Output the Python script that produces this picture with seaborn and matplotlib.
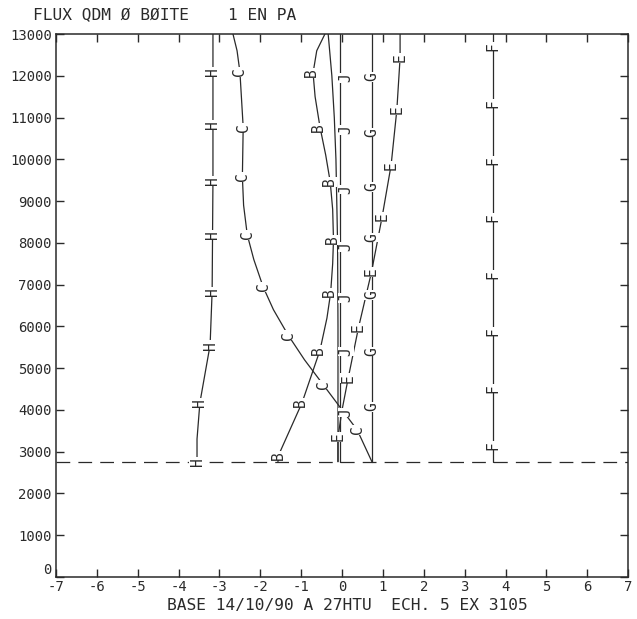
import numpy as np
import matplotlib
matplotlib.use("Agg")
import matplotlib.pyplot as plt
import seaborn as sns

# altitude (m) and flux values
h_y = [2760, 3300, 4170, 5000, 5550, 6840, 8190, 9500, 10820, 12090, 13000]
h_x = [-3.55, -3.55, -3.48, -3.33, -3.23, -3.18, -3.17, -3.16, -3.16, -3.16, -3.16]
h_lab = [2760, 4170, 5550, 6840, 8190, 9500, 10820, 12090]

c_y = [2760, 3520, 4000, 4600, 5200, 5790, 6400, 6940, 7600, 8190, 8900, 9580, 10770, 12090, 12600, 13000]
c_x = [0.73, 0.37, 0.0, -0.46, -0.92, -1.32, -1.68, -1.93, -2.16, -2.32, -2.41, -2.44, -2.42, -2.50, -2.57, -2.67]
c_lab = [3520, 4600, 5790, 6940, 8190, 9580, 10770, 12090]

b_y = [2760, 2990, 4170, 5430, 6200, 6800, 7500, 8070, 8800, 9460, 10100, 10770, 11500, 12070, 12600, 13000]
b_x = [-1.57, -1.52, -0.98, -0.54, -0.37, -0.28, -0.23, -0.21, -0.23, -0.29, -0.40, -0.54, -0.66, -0.71, -0.62, -0.42]
b_lab = [2900, 4170, 5430, 6800, 8070, 9460, 10770, 12070]

a_y = [2760, 6000, 8000, 9000, 10000, 11000, 12000, 13000]
a_x = [-0.10, -0.10, -0.11, -0.13, -0.15, -0.19, -0.25, -0.34]

j_y = [2760, 13000]
j_x = [-0.05, -0.05]
j_lab = [3930, 5390, 6680, 7900, 9270, 10700, 11950]

g_y = [2760, 13000]
g_x = [0.73, 0.73]
g_lab = [4070, 5390, 6750, 8120, 9340, 10650, 11970]

e_y = [2760, 3350, 4000, 4760, 5960, 7300, 8620, 9860, 11180, 12430, 13000]
e_x = [-0.10, -0.10, 0.0, 0.15, 0.40, 0.72, 0.98, 1.20, 1.34, 1.42, 1.42]
e_lab = [3350, 4760, 5960, 7300, 8620, 9860, 11180, 12430]

f_y = [2760, 13000]
f_x = [3.70, 3.70]
f_lab = [3150, 4510, 5880, 7240, 8610, 9970, 11340, 12700]

base_y = 2760
x_ticks = list(range(-7, 8))
y_ticks = list(range(0, 13001, 1000))

curves = [
    ("H", h_x, h_y, h_lab),
    ("C", c_x, c_y, c_lab),
    ("B", b_x, b_y, b_lab),
    ("", a_x, a_y, []),
    ("J", j_x, j_y, j_lab),
    ("G", g_x, g_y, g_lab),
    ("E", e_x, e_y, e_lab),
    ("F", f_x, f_y, f_lab),
]
# small sideways shift of the letters (J sits on the right of its line)
lab_shift = {"J": 0.14, "B": -0.03}

sns.set_style("ticks")
plt.rcParams['font.family'] = ['DejaVu Sans Mono', 'DejaVu Sans']
plt.rcParams['axes.unicode_minus'] = False

ink = "#2a2a2a"
fig = plt.figure(figsize=(6.37, 6.19), dpi=100)
ax = fig.add_axes([0.088, 0.068, 0.898, 0.877])

for name, xs, ys, labs in curves:
    sns.lineplot(x=xs, y=ys, orient="y", sort=True, color=ink, lw=0.9, ax=ax)
    for yl in labs:
        xl = np.interp(yl, ys, xs) + lab_shift.get(name, 0)
        ax.text(xl, yl, name, rotation=90, ha="center", va="center", fontsize=10.5,
                color=ink, zorder=5,
                bbox=dict(facecolor="white", edgecolor="none", pad=0.2))

# base line
ax.axhline(base_y, color=ink, lw=0.9, dashes=(11, 6.5), zorder=1)

ax.set_xlim(-7, 7)
ax.set_ylim(0, 13000)
ax.set_xticks(x_ticks)
ax.set_yticks(y_ticks)
ax.set_xticklabels([str(v) for v in x_ticks])
ax.set_yticklabels([str(v) for v in y_ticks])
ax.tick_params(direction="in", length=6, width=1, top=True, right=True,
               labelsize=10, colors=ink)
ax.tick_params(axis="x", pad=2)
ax.tick_params(axis="y", pad=3)
ax.get_yticklabels()[0].set_verticalalignment("bottom")
for sp in ax.spines.values():
    sp.set_color(ink)
    sp.set_linewidth(1.1)
ax.set_xlabel("")
ax.set_ylabel("")

fig.text(0.052, 0.975, "FLUX QDM Ø BØITE    1 EN PA", fontsize=11.7, color=ink,
         ha="left", va="center")
fig.text(0.545, 0.022, "BASE 14/10/90 A 27HTU  ECH. 5 EX 3105", fontsize=11.7,
         color=ink, ha="center", va="center")

fig.savefig("out.png", dpi=100, facecolor="white")
